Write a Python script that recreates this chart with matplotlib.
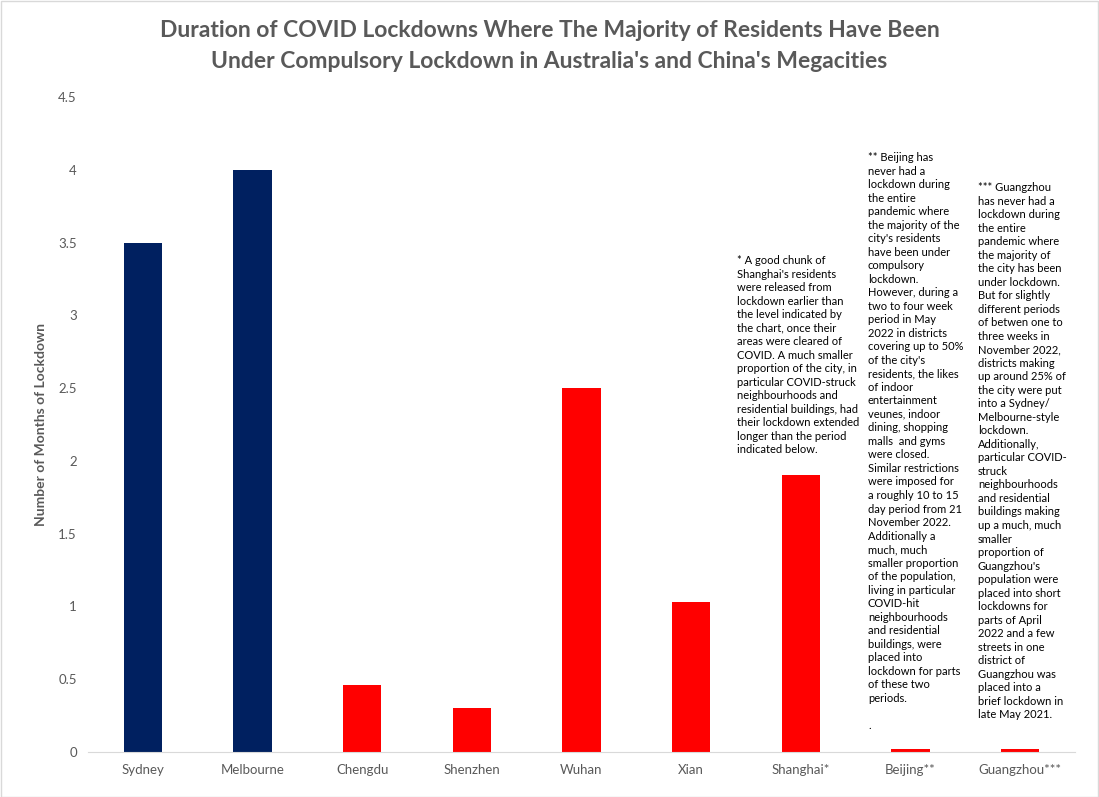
import matplotlib
matplotlib.use("Agg")
import matplotlib.pyplot as plt
from matplotlib.patches import Rectangle

cities = ["Sydney", "Melbourne", "Chengdu", "Shenzhen", "Wuhan", "Xian",
          "Shanghai*", "Beijing**", "Guangzhou***"]
months = [3.5, 4.0, 0.46, 0.30, 2.5, 1.03, 1.9, 0.02, 0.02]
colors = ["#002060", "#002060", "#ff0000", "#ff0000", "#ff0000", "#ff0000",
          "#ff0000", "#ff0000", "#ff0000"]
yticks = [0, 0.5, 1, 1.5, 2, 2.5, 3, 3.5, 4, 4.5]

title = ("Duration of COVID Lockdowns Where The Majority of Residents Have Been\n"
         "Under Compulsory Lockdown in Australia's and China's Megacities")
ylabel = "Number of Months of Lockdown"

note_shanghai = """* A good chunk of
Shanghai's residents
were released from
lockdown earlier than
the level indicated by
the chart, once their
areas were cleared of
COVID. A much smaller
proportion of the city, in
particular COVID-struck
neighbourhoods and
residential buildings, had
their lockdown extended
longer than the period
indicated below."""

note_beijing = """** Beijing has
never had a
lockdown during
the entire
pandemic where
the majority of the
city's residents
have been under
compulsory
lockdown.
However, during a
two to four week
period in May
2022 in districts
covering up to 50%
of the city's
residents, the likes
of indoor
entertainment
veunes, indoor
dining, shopping
malls  and gyms
were closed.
Similar restrictions
were imposed for
a roughly 10 to 15
day period from 21
November 2022.
Additionally a
much, much
smaller proportion
of the population,
living in particular
COVID-hit
neighbourhoods
and residential
buildings, were
placed into
lockdown for parts
of these two
periods.

."""

note_guangzhou = """*** Guangzhou
has never had a
lockdown during
the entire
pandemic where
the majority of
the city has been
under lockdown.
But for slightly
different periods
of betwen one to
three weeks in
November 2022,
districts making
up around 25% of
the city were put
into a Sydney/
Melbourne-style
lockdown.
Additionally,
particular COVID-
struck
neighbourhoods
and residential
buildings making
up a much, much
smaller
proportion of
Guangzhou's
population were
placed into short
lockdowns for
parts of April
2022 and a few
streets in one
district of
Guangzhou was
placed into a
brief lockdown in
late May 2021."""

plt.rcParams['font.family'] = ['Lato', 'DejaVu Sans']
W, H = 1099, 797
fig = plt.figure(figsize=(W / 100, H / 100), dpi=100)
fig.patches.append(Rectangle((0.5 / W, 0.5 / H), 1 - 1.5 / W, 1 - 1.5 / H,
                             transform=fig.transFigure, fill=False,
                             edgecolor="#d9d9d9", linewidth=1))

ax = fig.add_axes([88 / W, 1 - 752 / H, (1075 - 88) / W, (752 - 97) / H])
x = list(range(len(cities)))
ax.bar(x, months, width=0.35, color=colors, zorder=2)
ax.set_xlim(-0.5, len(cities) - 0.5)
ax.set_ylim(0, 4.5)
ax.set_yticks(yticks)
ax.set_yticklabels([f"{v:g}" for v in yticks])
ax.set_xticks(x)
ax.set_xticklabels(cities)
for s in ["top", "right", "left"]:
    ax.spines[s].set_visible(False)
ax.spines["bottom"].set_color("#d9d9d9")
ax.tick_params(axis="both", length=0, colors="#595959", labelsize=9.5)
ax.tick_params(axis="y", pad=8)
ax.tick_params(axis="x", pad=9)
ax.set_ylabel(ylabel, fontsize=10, fontweight="bold", color="#595959", labelpad=8)

fig.text(0.5, 1 - 46 / H, title, ha="center", va="center", fontsize=16.5,
         fontweight="bold", color="#595959", linespacing=1.6)

nkw = dict(fontsize=8, color="black", va="top", ha="left", linespacing=1.28)
fig.text(737 / W, 1 - 255 / H, note_shanghai, **nkw)
fig.text(868 / W, 1 - 152 / H, note_beijing, **nkw)
fig.text(978 / W, 1 - 182 / H, note_guangzhou, **nkw)

fig.savefig("out.png", dpi=100)
